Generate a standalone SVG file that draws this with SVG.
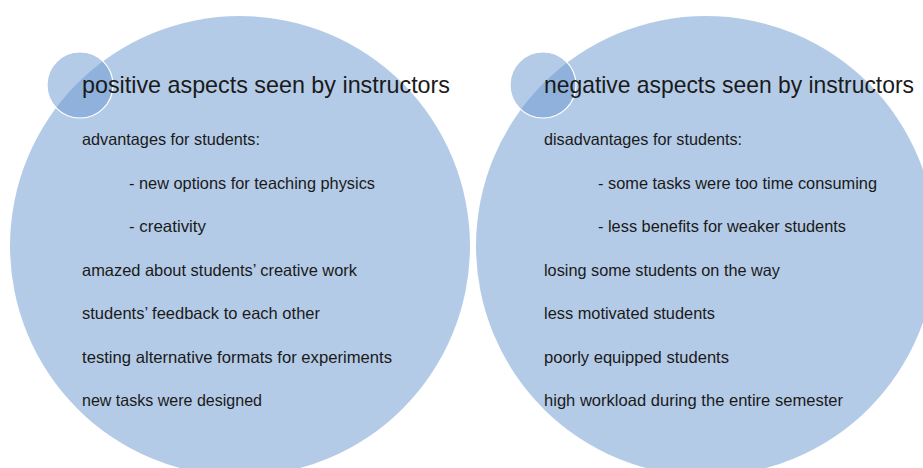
<svg xmlns="http://www.w3.org/2000/svg" width="923" height="468" viewBox="0 0 923 468">
<style>
.big{fill:#6997cf;fill-opacity:0.5}
.small{fill:#6997cf;fill-opacity:0.5;stroke:#ffffff;stroke-width:1.2}
.t{font-family:"Liberation Sans",Arial,sans-serif;fill:#1a1a1a}
.h{font-size:24px}
.b{font-size:16.5px}
</style>
<rect width="923" height="468" fill="#ffffff"/>
<g id="positive">
<circle class="big" cx="240" cy="246" r="230"/>
<circle class="small" cx="80" cy="85" r="33"/>
<g class="t">
<text class="h" x="82" y="93" textLength="368" lengthAdjust="spacingAndGlyphs">positive aspects seen by instructors</text>
<text class="b" x="82" y="145" textLength="178" lengthAdjust="spacingAndGlyphs">advantages for students:</text>
<text class="b" x="129" y="189" textLength="246" lengthAdjust="spacingAndGlyphs">- new options for teaching physics</text>
<text class="b" x="129" y="232" textLength="77" lengthAdjust="spacingAndGlyphs">- creativity</text>
<text class="b" x="82" y="276" textLength="275" lengthAdjust="spacingAndGlyphs">amazed about students’ creative work</text>
<text class="b" x="82" y="319" textLength="238" lengthAdjust="spacingAndGlyphs">students’ feedback to each other</text>
<text class="b" x="82" y="363" textLength="310" lengthAdjust="spacingAndGlyphs">testing alternative formats for experiments</text>
<text class="b" x="82" y="406" textLength="180" lengthAdjust="spacingAndGlyphs">new tasks were designed</text>
</g>
</g>
<g id="negative">
<circle class="big" cx="706" cy="246" r="230"/>
<circle class="small" cx="543" cy="85" r="33"/>
<g class="t">
<text class="h" x="544" y="93" textLength="370" lengthAdjust="spacingAndGlyphs">negative aspects seen by instructors</text>
<text class="b" x="544" y="145" textLength="198" lengthAdjust="spacingAndGlyphs">disadvantages for students:</text>
<text class="b" x="598" y="189" textLength="279" lengthAdjust="spacingAndGlyphs">- some tasks were too time consuming</text>
<text class="b" x="598" y="232" textLength="248" lengthAdjust="spacingAndGlyphs">- less benefits for weaker students</text>
<text class="b" x="544" y="276" textLength="236" lengthAdjust="spacingAndGlyphs">losing some students on the way</text>
<text class="b" x="544" y="319" textLength="171" lengthAdjust="spacingAndGlyphs">less motivated students</text>
<text class="b" x="544" y="363" textLength="185" lengthAdjust="spacingAndGlyphs">poorly equipped students</text>
<text class="b" x="544" y="406" textLength="299" lengthAdjust="spacingAndGlyphs">high workload during the entire semester</text>
</g>
</g>
<g id="connectors"/>
</svg>
